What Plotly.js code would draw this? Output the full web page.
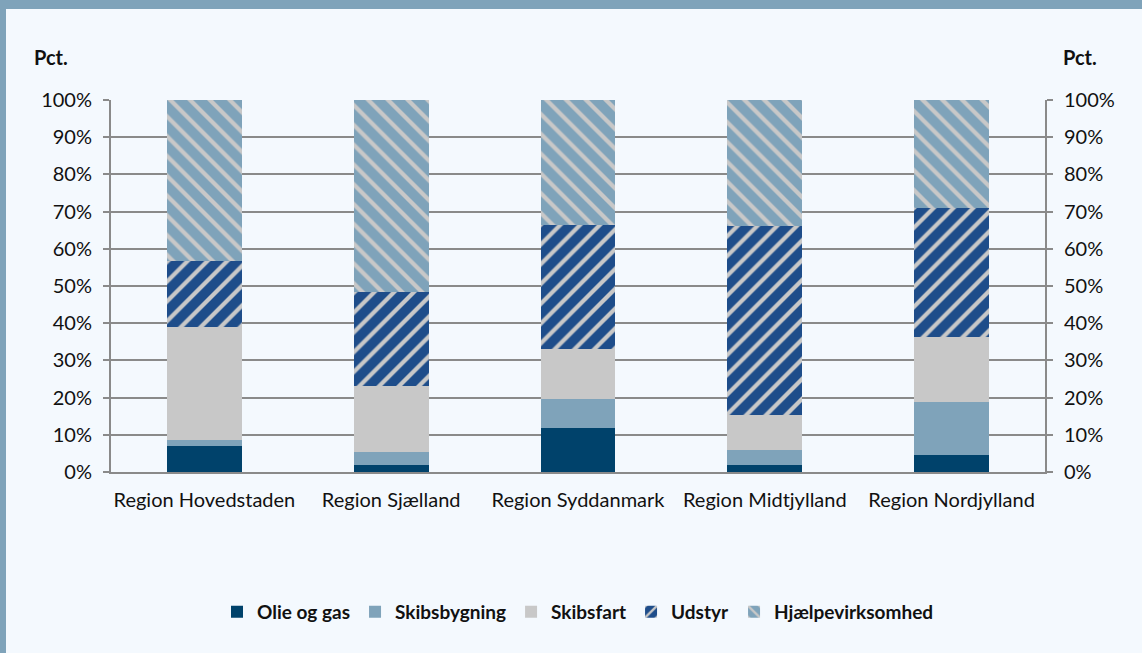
<!DOCTYPE html>
<html>
<head>
<meta charset="utf-8">
<script src="https://cdn.plot.ly/plotly-3.0.1.min.js"></script>
<style>
  html, body { margin: 0; padding: 0; background: #F4F9FE; }
  #wrap { position: relative; width: 1142px; height: 653px; overflow: hidden; }
  #chart { position: absolute; left: 0; top: 0; width: 1142px; height: 653px; }
  .bt { position: absolute; left: 0; top: 0; width: 1142px; height: 9px; background: #7FA3BA; }
  .bl { position: absolute; left: 0; top: 0; width: 6px; height: 653px; background: #7FA3BA; }
</style>
</head>
<body>
<div id="wrap">
  <div id="chart"></div>
  <div class="bt"></div>
  <div class="bl"></div>
</div>
<script>
const categories = ["Region Hovedstaden", "Region Sjælland", "Region Syddanmark", "Region Midtjylland", "Region Nordjylland"];
const olieOgGas        = [0.070, 0.020, 0.118, 0.020, 0.045];
const skibsbygning     = [0.016, 0.035, 0.079, 0.040, 0.142];
const skibsfart        = [0.304, 0.175, 0.133, 0.092, 0.176];
const udstyr           = [0.177, 0.255, 0.335, 0.508, 0.347];
const hjaelpevirksomhed= [0.433, 0.515, 0.335, 0.340, 0.290];
const yTicks = [0, 0.1, 0.2, 0.3, 0.4, 0.5, 0.6, 0.7, 0.8, 0.9, 1.0];
const yTickLabels = ["0%", "10%", "20%", "30%", "40%", "50%", "60%", "70%", "80%", "90%", "100%"];

const FONT = "Lato, 'Open Sans', sans-serif";
const stripe = "#C8C8C8";
const AX = "#8A8A8A";

function bar(name, vals, color, pattern) {
  const t = {
    type: "bar", name: name, x: categories, y: vals,
    marker: { color: color, line: { width: 0 } },
    hoverinfo: "skip"
  };
  if (pattern) {
    t.marker.pattern = { shape: pattern, fillmode: "overlay", bgcolor: color, fgcolor: stripe, fgopacity: 1, size: 14, solidity: 0.3 };
  }
  return t;
}

const data = [
  bar("Olie og gas", olieOgGas, "#00426B"),
  bar("Skibsbygning", skibsbygning, "#7FA3BA"),
  bar("Skibsfart", skibsfart, "#C8C8C8"),
  bar("Udstyr", udstyr, "#1E4D8A", "/"),
  bar("Hjælpevirksomhed", hjaelpevirksomhed, "#7FA3BA", "\\"),
  { type: "scatter", x: [categories[0]], y: [0], yaxis: "y2", mode: "markers", marker: { opacity: 0 }, showlegend: false, hoverinfo: "skip" }
];

const yax = {
  range: [0, 1], tickvals: yTicks, ticktext: yTickLabels,
  showgrid: true, gridcolor: AX, gridwidth: 2,
  showline: true, linecolor: AX, linewidth: 2,
  ticks: "outside", ticklen: 6, tickcolor: AX, tickwidth: 2,
  ticklabelstandoff: 7,
  tickfont: { family: FONT, size: 20, color: "#111" },
  zeroline: false, fixedrange: true
};

const layout = {
  width: 1142, height: 653,
  margin: { l: 111, r: 97, t: 100, b: 181 },
  paper_bgcolor: "#F4F9FE", plot_bgcolor: "#F4F9FE",
  barmode: "stack", bargap: 0.6,
  font: { family: FONT, color: "#111" },
  showlegend: true,
  legend: {
    orientation: "h", x: 0.5, xanchor: "center", y: -0.376, yanchor: "middle",
    font: { family: FONT, size: 19, color: "#111", weight: "bold" },
    traceorder: "normal", bgcolor: "rgba(0,0,0,0)", itemwidth: 30
  },
  xaxis: {
    type: "category", showline: true, linecolor: AX, linewidth: 2,
    ticks: "", ticklabelstandoff: 9,
    tickfont: { family: FONT, size: 20, color: "#111" }, fixedrange: true
  },
  yaxis: Object.assign({}, yax),
  yaxis2: Object.assign({}, yax, { overlaying: "y", side: "right", showgrid: false }),
  annotations: [
    { text: "<b>Pct.</b>", xref: "paper", yref: "paper", x: -0.085, y: 1.116, xanchor: "left", yanchor: "middle", showarrow: false, font: { family: FONT, size: 20, color: "#111" } },
    { text: "<b>Pct.</b>", xref: "paper", yref: "paper", x: 1.017, y: 1.116, xanchor: "left", yanchor: "middle", showarrow: false, font: { family: FONT, size: 20, color: "#111" } }
  ]
};

Plotly.newPlot("chart", data, layout, { displayModeBar: false, staticPlot: true });
</script>
</body>
</html>
